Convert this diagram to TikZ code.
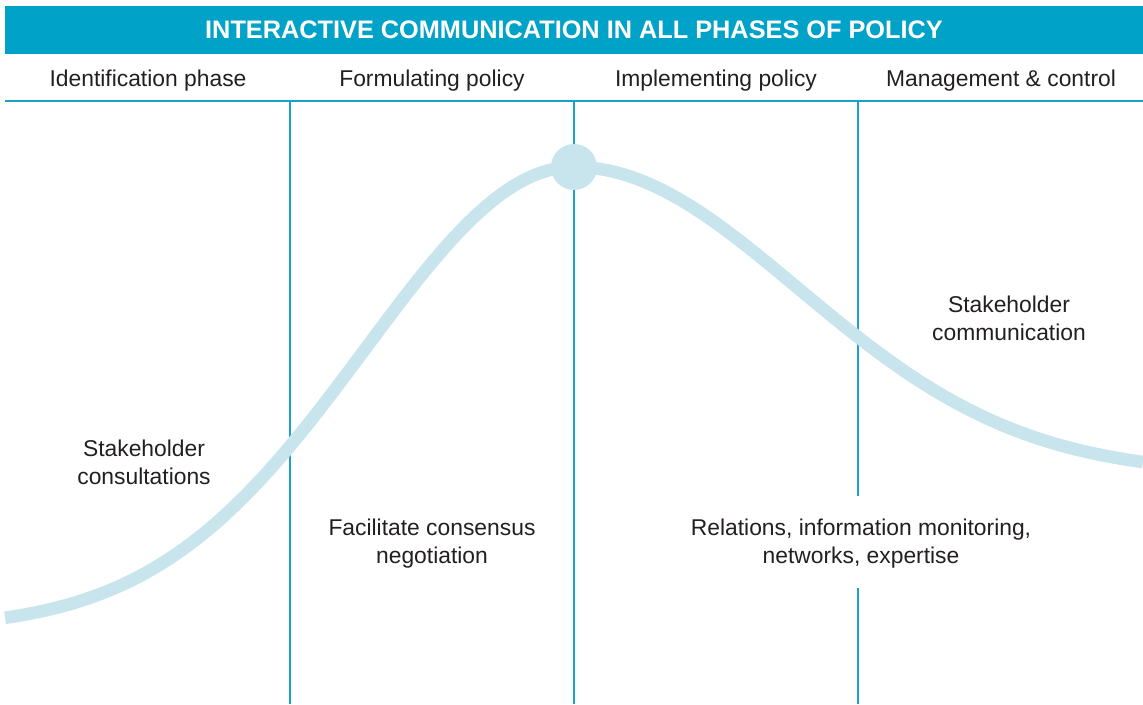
\documentclass[tikz,border=0pt]{standalone}
\usepackage{fontspec}
\setmainfont{Liberation Sans}
\definecolor{barblue}{HTML}{00A3C7}
\definecolor{ruleblue}{HTML}{1AA2CA}
\definecolor{curveblue}{HTML}{C8E5ED}
\definecolor{txtgray}{HTML}{231F20}

\begin{document}
\begin{tikzpicture}[
    phase/.style={text=txtgray, font=\fontsize{6.5}{8}\selectfont},
    note/.style={text=txtgray, align=center, font=\fontsize{6.5}{8}\selectfont},
    colrule/.style={ruleblue, line width=0.6pt},
    wave/.style={curveblue, line width=3.6pt}
  ]
    \useasboundingbox (0,0) rectangle (11.43,7.04);

    % Title bar
    \fill[barblue] (0.05,6.50) rectangle (11.43,6.98);
    \node[text=white, font=\bfseries\fontsize{7.2}{8}\selectfont] (title) at (5.74,6.74) {INTERACTIVE COMMUNICATION IN ALL PHASES OF POLICY};

    % Phase headings
    \node[phase] (ident) at (1.48,6.23) {Identification phase};
    \node[phase] (form) at (4.32,6.23) {Formulating policy};
    \node[phase] (impl) at (7.16,6.23) {Implementing policy};
    \node[phase] (mgmt) at (10.01,6.23) {Management \& control};

    % Column rules
    \draw[colrule] (0.05,6.03) -- (11.43,6.03);
    \draw[colrule] (2.90,6.03) -- (2.90,0);
    \draw[colrule] (5.74,6.03) -- (5.74,0);
    \draw[colrule] (8.58,6.03) -- (8.58,2.08);
    \draw[colrule] (8.58,1.16) -- (8.58,0);

    % Communication curve
    \draw[wave] plot[domain=0.05:5.74, samples=90] (\x, {0.75+4.62*exp(-((\x-5.74)/2.95)*((\x-5.74)/2.95))});
    \draw[wave] plot[domain=5.74:11.43, samples=90] (\x, {2.30+3.07*exp(-((\x-5.74)/3.16)*((\x-5.74)/3.16))});
    \fill[curveblue] (5.74,5.37) circle (0.23);

    % Activities per phase
    \node[note] (consult) at (1.44,2.42) {Stakeholder\\consultations};
    \node[note] (consensus) at (4.32,1.60) {Facilitate consensus\\negotiation};
    \node[note] (relations) at (8.61,1.60) {Relations, information monitoring,\\networks, expertise};
    \node[note] (commun) at (10.09,3.86) {Stakeholder\\communication};

\end{tikzpicture}
\end{document}
